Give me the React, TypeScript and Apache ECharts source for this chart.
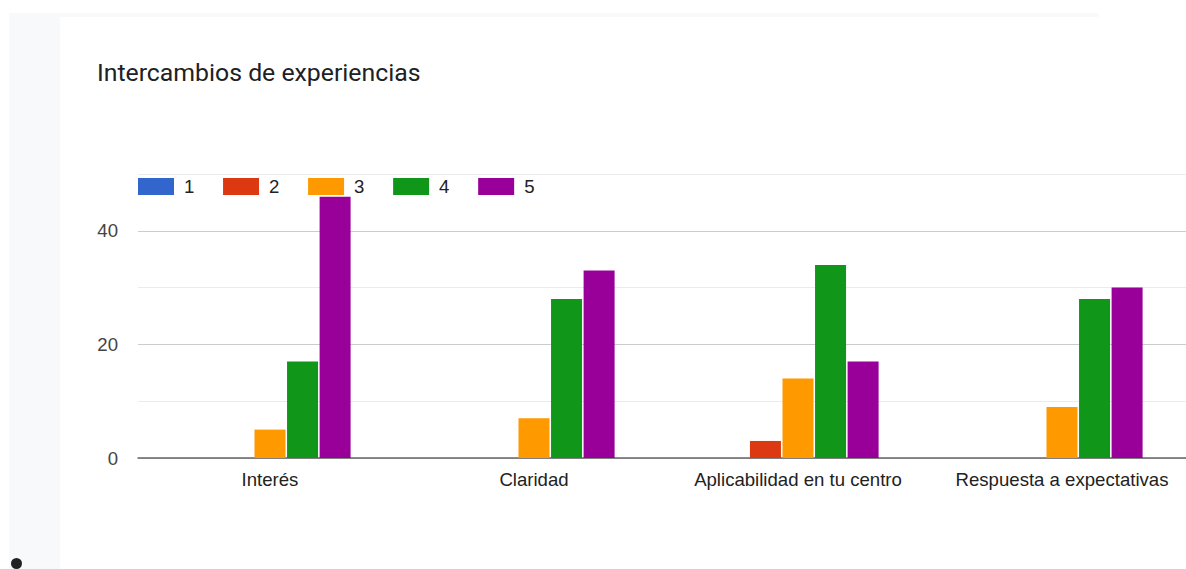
import React, { useEffect, useRef } from "react";
import * as echarts from "echarts";

const title = "Intercambios de experiencias";
const categories = ["Interés", "Claridad", "Aplicabilidad en tu centro", "Respuesta a expectativas"];
const seriesNames = ["1", "2", "3", "4", "5"];
const seriesColors = ["#3366cc", "#dc3912", "#ff9900", "#109618", "#990099"];
const values1 = [0, 0, 0, 0];
const values2 = [0, 0, 3, 0];
const values3 = [5, 7, 14, 9];
const values4 = [17, 28, 34, 28];
const values5 = [46, 33, 17, 30];
const allValues = [values1, values2, values3, values4, values5];

const TITLE_FONT = "Roboto, sans-serif";
const FONT = "Arial, 'Liberation Sans', sans-serif";

export default function App() {
  const ref = useRef<HTMLDivElement>(null);
  useEffect(() => {
    if (!ref.current) return;
    const chart = echarts.init(ref.current, undefined, { renderer: "svg" });
    chart.setOption({
      animation: false,
      title: {
        text: title,
        left: 37,
        top: 43,
        padding: 0,
        textStyle: { fontFamily: TITLE_FONT, fontSize: 24.8, fontWeight: "normal", color: "#202124" },
      },
      legend: {
        left: 78,
        top: 160,
        padding: 0,
        itemWidth: 36,
        itemHeight: 17,
        itemGap: 28.7,
        icon: "rect",
        textStyle: { fontFamily: FONT, fontSize: 18.6, color: "#222", padding: [0, 0, 0, 5] },
        data: seriesNames,
      },
      grid: { left: 78, right: 66, top: 157, bottom: 111, containLabel: false },
      xAxis: {
        type: "category",
        data: categories,
        axisTick: { show: false },
        axisLine: { lineStyle: { color: "#666", width: 1.5 } },
        axisLabel: { fontFamily: FONT, fontSize: 18.6, color: "#222", margin: 12, interval: 0, hideOverlap: false },
      },
      yAxis: {
        type: "value",
        min: 0,
        max: 50,
        interval: 10,
        axisLine: { show: false },
        axisTick: { show: false },
        axisLabel: {
          fontFamily: FONT,
          fontSize: 18.6,
          color: "#444",
          margin: 20,
          formatter: (v: number) => (v % 20 === 0 ? String(v) : ""),
        },
        splitLine: { lineStyle: { color: ["#cccccc", "#ebebeb"], width: 1 } },
      },
      series: seriesNames.map((n, i) => ({
        name: n,
        type: "bar",
        data: allValues[i],
        barWidth: 31,
        barGap: "5%",
        itemStyle: { color: seriesColors[i] },
      })),
    });
    return () => chart.dispose();
  }, []);

  return (
    <div style={{ position: "fixed", left: 0, top: 0, width: 1186, height: 569, overflow: "hidden", background: "#fff" }}>
      <div style={{ position: "absolute", left: 9, top: 13, width: 51, height: 556, background: "#f8f9fa" }} />
      <div style={{ position: "absolute", left: 9, top: 13, width: 1089, height: 4, background: "#f8f9fa" }} />
      <div style={{ position: "absolute", left: 11, top: 558, width: 11, height: 11, borderRadius: "50%", background: "#202124" }} />
      <div ref={ref} style={{ position: "absolute", left: 60, top: 17, width: 1200, height: 552 }} />
    </div>
  );
}
